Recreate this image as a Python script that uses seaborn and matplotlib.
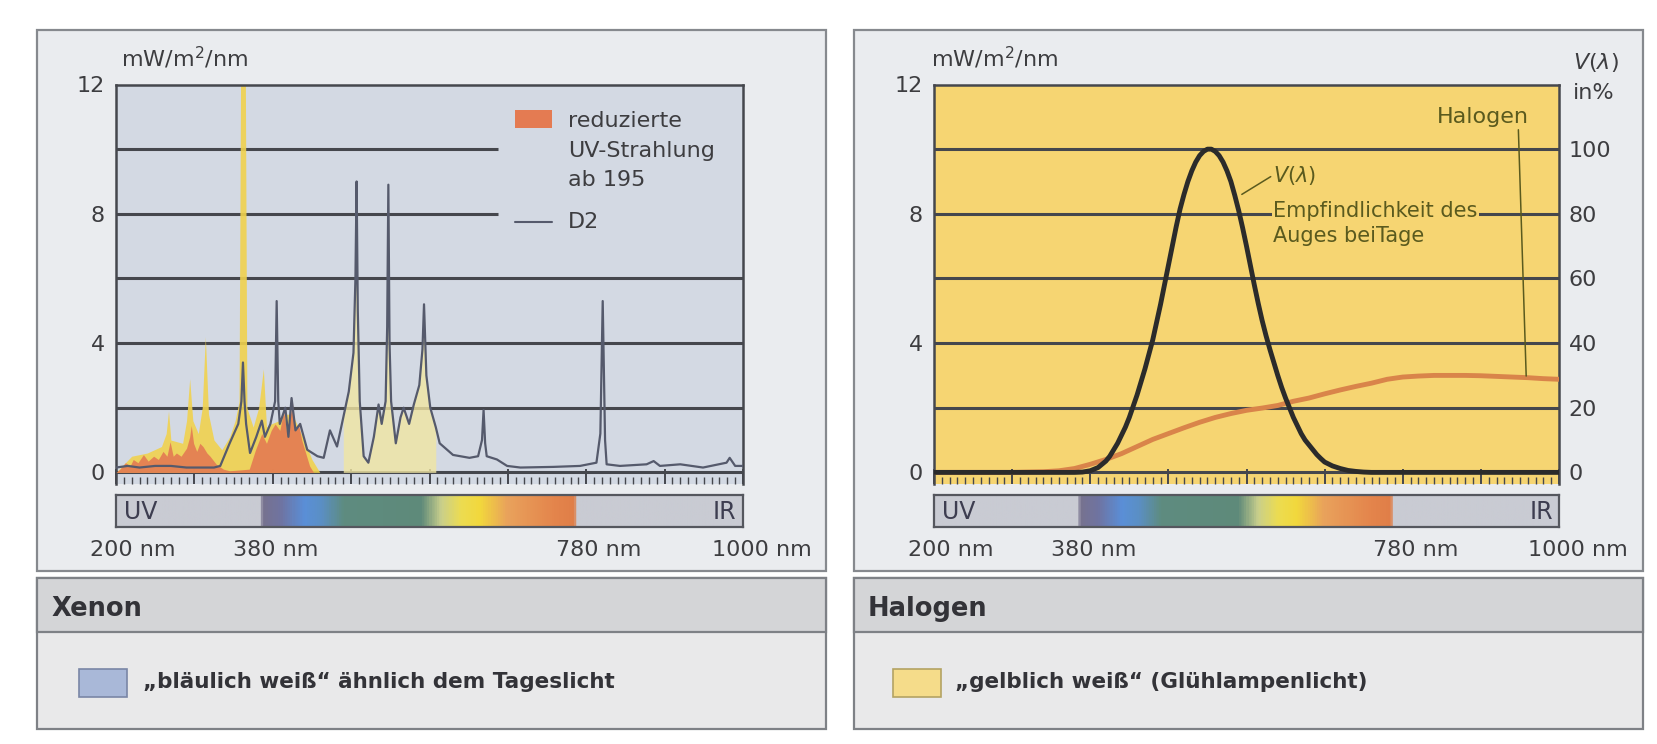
import numpy as np
import seaborn as sns
import matplotlib
import matplotlib.pyplot as plt
from matplotlib.colors import LinearSegmentedColormap
from matplotlib.patches import Rectangle
from matplotlib.lines import Line2D

matplotlib.use('Agg')

# Xenon, D2 curve (nm, mW/m2/nm)
d2_nm = [200, 215, 230, 250, 270, 290, 310, 325, 333, 345, 356, 360, 362, 364, 366, 371, 379,
         386, 390, 397, 403, 405, 407, 409, 416, 420, 424, 429, 435, 444, 457, 465, 473, 482,
         490, 497, 503, 505.5, 507, 508.5, 511, 516, 522, 529, 535, 539, 544, 546, 547.5, 549,
         551, 557, 563, 567, 574, 580, 587, 591, 593, 596, 601, 608, 613, 630, 651, 662, 667,
         669, 671, 673, 686, 699, 716, 758, 792, 813, 818, 821, 824, 826, 843, 877, 886, 894,
         920, 949, 979, 983, 990, 1000]
d2_val = [0.15, 0.2, 0.15, 0.2, 0.2, 0.15, 0.15, 0.15, 0.2, 0.9, 1.5, 2.2, 3.4, 2.2, 1.5, 0.6, 1.1,
          1.6, 1.1, 1.5, 2.2, 5.3, 2.2, 1.5, 2.0, 1.1, 2.3, 1.3, 1.5, 0.7, 0.5, 0.45, 1.3, 0.8,
          1.7, 2.5, 3.7, 6.0, 9.0, 5.0, 2.2, 0.5, 0.3, 1.1, 2.1, 1.5, 2.2, 4.5, 8.9, 4.0,
          2.2, 0.9, 1.7, 2.0, 1.5, 2.1, 2.7, 3.8, 5.2, 3.0, 2.0, 1.4, 0.9, 0.54, 0.45, 0.5, 1.0,
          1.93, 0.9, 0.5, 0.4, 0.2, 0.15, 0.17, 0.2, 0.3, 1.2, 5.3, 1.0, 0.25, 0.2, 0.25, 0.35, 0.2,
          0.25, 0.15, 0.3, 0.45, 0.2, 0.2]

# reduzierte UV-Strahlung (orange area)
uv_nm = [200, 205, 212, 218, 222, 228, 235, 241, 248, 254, 260, 265, 269, 273, 277, 283, 290,
         294, 296, 299, 303, 307, 311, 316, 320, 328, 337, 345, 370, 378, 386, 392, 398, 403,
         409, 414, 418, 422, 425, 428, 433, 437, 442, 447, 452]
uv_val = [0, 0.1, 0.3, 0.2, 0.4, 0.3, 0.55, 0.35, 0.5, 0.4, 0.65, 0.5, 0.95, 0.5, 0.6, 0.5, 0.75,
          1.1, 1.45, 0.9, 0.65, 0.9, 0.8, 0.6, 0.5, 0.25, 0.1, 0.05, 0.1, 0.7, 1.2, 0.9, 1.3, 1.5,
          1.3, 1.9, 1.2, 1.7, 2.2, 1.4, 1.5, 1.0, 0.6, 0.2, 0]

# yellow parts of the xenon spectrum
yel_nm = [200, 220, 240, 258, 264, 267, 270, 285, 290, 294, 298, 305, 310, 314, 318, 325, 335,
          345, 352, 357, 359, 365, 367, 375, 382, 388, 392, 398, 408, 415, 425, 440, 450, 460]
yel_val = [0, 0.5, 0.6, 0.8, 1.2, 1.9, 1.0, 0.9, 1.6, 2.9, 1.6, 1.2, 2.0, 4.2, 1.8, 1.0, 0.7,
           1.1, 1.6, 2.2, 12.5, 12.5, 2.0, 1.4, 2.0, 3.2, 1.4, 1.5, 1.6, 1.8, 1.8, 1.0, 0.4, 0]

# Halogen (nm, mW/m2/nm)
hal_nm = [200, 300, 340, 360, 380, 400, 420, 440, 460, 480, 500, 520, 540, 560, 580, 600, 620,
          640, 660, 680, 700, 720, 740, 760, 780, 800, 820, 840, 860, 880, 900, 920, 940, 960,
          980, 1000]
hal_val = [0.0, 0.0, 0.02, 0.05, 0.12, 0.25, 0.4, 0.58, 0.8, 1.02, 1.2, 1.38, 1.55, 1.7, 1.82,
           1.92, 1.99, 2.07, 2.2, 2.3, 2.43, 2.55, 2.66, 2.76, 2.88, 2.95, 2.98, 3.0, 3.0, 3.0,
           2.99, 2.97, 2.95, 2.93, 2.9, 2.88]

# V(lambda) in %
v_nm = [200, 300, 380, 390, 400, 410, 420, 425, 430, 435, 440, 445, 450, 455, 460, 465, 470,
        475, 480, 485, 490, 495, 500, 505, 510, 515, 520, 525, 530, 535, 540, 545, 550, 555,
        560, 565, 570, 575, 580, 585, 590, 595, 600, 605, 610, 615, 620, 625, 630, 635, 640,
        645, 650, 655, 660, 665, 670, 675, 680, 685, 690, 695, 700, 710, 720, 730, 740, 750,
        760, 780, 1000]
v_pct = [0, 0, 0, 0.1, 0.5, 1.5, 3.5, 5, 7, 9, 11.5, 14, 17, 20.5, 24, 28, 32,
         36.5, 41, 46.5, 52, 58, 64, 70, 76, 81.5, 86, 90, 93.3, 96, 98, 99.3, 100, 100,
         99.3, 98, 96, 93.3, 90, 85.7, 81, 75.7, 70, 64, 58, 52.3, 47, 42.3, 38, 34, 30,
         26.3, 23, 20, 17, 14.5, 12, 10, 8.5, 7, 5.5, 4.3, 3.2, 2, 1.2, 0.6, 0.3, 0.1,
         0, 0, 0]

y_ticks = [0, 4, 8, 12]
v_ticks = [0, 20, 40, 60, 80, 100]
grid_levels = [2, 4, 6, 8, 10]
band_labels = ['200 nm', '380 nm', '780 nm', '1000 nm']
band_label_pos = [222, 404, 816, 1024]
band_stops = [200, 383, 386, 410, 440, 462, 490, 590, 615, 640, 665, 700, 760, 786, 789, 1000]
band_colors = ['#c9cbd3', '#c9cbd3', '#77728e', '#6f74a2', '#5a8fd8', '#5b8fc4', '#5e8c80',
               '#5f8a7a', '#c9cf8c', '#ecdc52', '#f2d83c', '#e9a25c', '#e4854c', '#e07e48',
               '#c9cbd3', '#c9cbd3']

W, H = 1657, 744


def fx(px):
    return px / W


def fy(py):
    return 1 - py / H


sns.set_theme(style='white')
plt.rcParams['font.family'] = ['DejaVu Sans']
txt = '#3d3d40'
grid_c = '#45474d'
fs = 16

fig = plt.figure(figsize=(W / 100, H / 100), dpi=100)
fig.patch.set_facecolor('white')

# panel boxes (behind the axes)
for x0 in [37, 854]:
    fig.patches.append(Rectangle((fx(x0), fy(571)), 789 / W, 541 / H, transform=fig.transFigure,
                                 facecolor='#eaecef', edgecolor='#86898e', lw=1.6, zorder=-5))
    fig.patches.append(Rectangle((fx(x0), fy(729)), 789 / W, 151 / H, transform=fig.transFigure,
                                 facecolor='#e9e9ea', edgecolor='#7e8186', lw=1.6, zorder=-5))
    fig.patches.append(Rectangle((fx(x0), fy(632)), 789 / W, 54 / H, transform=fig.transFigure,
                                 facecolor='#d4d5d7', edgecolor='#7e8186', lw=1.6, zorder=-4))

cmap = LinearSegmentedColormap.from_list(
    'band', list(zip([(s - 200) / 800 for s in band_stops], band_colors)))


def setup_axes(ax, bg, x_unit):
    ax.set_facecolor(bg)
    ax.set_xlim(200, 1000)
    ax.set_ylim(-0.35, 12)
    ax.set_yticks(y_ticks)
    ax.set_yticklabels([str(t) for t in y_ticks], fontsize=fs, color=txt)
    ax.tick_params(axis='y', left=False, length=0, pad=8)
    ax.set_xticks(np.arange(200, 1001, 100))
    ax.set_xticks(np.arange(200, 1001, 10), minor=True)
    ax.tick_params(axis='x', which='major', bottom=True, direction='in', length=11, width=1.4,
                   color=grid_c, labelbottom=False)
    ax.tick_params(axis='x', which='minor', bottom=True, direction='in', length=5, width=1.0,
                   color=grid_c, labelbottom=False)
    ax.set_xlabel('')
    ax.set_ylabel('')
    for s in ['left', 'right', 'top']:
        ax.spines[s].set_color(grid_c)
        ax.spines[s].set_linewidth(1.8)
    ax.spines['bottom'].set_visible(False)
    ax.axhline(0, color=grid_c, lw=2.2, zorder=1)
    fig.text(fx(x_unit), fy(58), 'mW/m$^2$/nm', fontsize=fs, color=txt, ha='left', va='center')


def band_axes(rect):
    bx = fig.add_axes(rect)
    bx.imshow(np.linspace(200, 1000, 801)[None, :], cmap=cmap, aspect='auto',
              extent=[200, 1000, 0, 1], vmin=200, vmax=1000)
    bx.set_xlim(200, 1000)
    bx.set_ylim(0, 1)
    bx.set_xticks([])
    bx.set_yticks([])
    for s in bx.spines.values():
        s.set_color('#55575e')
        s.set_linewidth(1.6)
    bx.text(0.012, 0.45, 'UV', transform=bx.transAxes, fontsize=17, color='#3d3d50',
            ha='left', va='center')
    bx.text(0.99, 0.45, 'IR', transform=bx.transAxes, fontsize=17, color='#3d3d50',
            ha='right', va='center')
    for lab, pos in zip(band_labels, band_label_pos):
        bx.text(pos, -0.72, lab, fontsize=fs, color=txt, ha='center', va='center',
                clip_on=False)
    return bx


# ---------------- Xenon ----------------
ax1 = fig.add_axes([fx(116), fy(483.7), 627 / W, 399.2 / H])
setup_axes(ax1, '#d3d9e3', 121)
for g in grid_levels:
    xmax = 687 if g >= 8 else 1000
    ax1.hlines(g, 200, xmax, color=grid_c, lw=2.2, zorder=1)

d2_arr = np.array(d2_val)
d2_x = np.array(d2_nm)
vis = (d2_x >= 490) & (d2_x <= 610)
ax1.fill_between(d2_x, 0, d2_arr, where=vis, color='#f1e6a2', alpha=0.8, lw=0, zorder=2)
ax1.fill_between(yel_nm, 0, yel_val, color='#f0d24e', alpha=0.9, lw=0, zorder=2)
ax1.fill_between(uv_nm, 0, uv_val, color='#e47b52', alpha=0.9, lw=0, zorder=3)
sns.lineplot(x=d2_nm, y=d2_val, ax=ax1, color='#555a6c', lw=1.6, estimator=None, sort=False,
             zorder=4)
ax1.set_xlim(200, 1000)
ax1.set_ylim(-0.35, 12)

# legend
fig.patches.append(Rectangle((fx(515), fy(128)), 37 / W, 18 / H, transform=fig.transFigure,
                             facecolor='#e47b52', edgecolor='none', zorder=5))
fig.lines.append(Line2D([fx(515), fx(552)], [fy(222), fy(222)], transform=fig.transFigure,
                        color='#555a6c', lw=1.5))
for line, yy in zip(['reduzierte', 'UV-Strahlung', 'ab 195', 'D2'], [121, 151, 180, 222]):
    fig.text(fx(568), fy(yy), line, fontsize=fs, color=txt, ha='left', va='center')

band_axes([fx(116), fy(527), 627 / W, 32.5 / H])

# ---------------- Halogen ----------------
olive = '#5a5a1e'
ax2 = fig.add_axes([fx(934), fy(483.7), 625 / W, 399.2 / H])
setup_axes(ax2, '#f6d572', 931)
for g in grid_levels:
    ax2.hlines(g, 200, 1000, color=grid_c, lw=2.2, zorder=1)

sns.lineplot(x=hal_nm, y=hal_val, ax=ax2, color='#d9844a', lw=3.5, estimator=None, sort=False,
             zorder=3)
ax2.set_xlim(200, 1000)
ax2.set_ylim(-0.35, 12)

ax3 = ax2.twinx()
sns.lineplot(x=v_nm, y=v_pct, ax=ax3, color='#2b2b2b', lw=3.5, estimator=None, sort=False,
             zorder=4)
ax3.set_ylim(-3.5, 120)
ax3.set_xlim(200, 1000)
ax3.set_yticks(v_ticks)
ax3.set_yticklabels([str(t) for t in v_ticks], fontsize=fs, color=txt)
ax3.tick_params(axis='y', right=False, length=0, pad=7)
ax3.set_ylabel('')
for s in ax3.spines.values():
    s.set_visible(False)
fig.text(fx(1596), fy(63), '$V(\\lambda)$', fontsize=fs, color=txt, ha='center', va='center')
fig.text(fx(1594), fy(93), 'in%', fontsize=fs, color=txt, ha='center', va='center')

# annotations
ax3.plot([594, 631], [86, 91.5], color=olive, lw=1.1, zorder=5)
ax3.text(634, 92, '$V(\\lambda)$', fontsize=15, color=olive, ha='left', va='center')
ax3.text(634, 81, 'Empfindlichkeit des', fontsize=15, color=olive, ha='left', va='center',
         bbox=dict(facecolor='#f6d572', edgecolor='none', pad=1.0), zorder=5)
ax3.text(634, 73, 'Auges beiTage', fontsize=15, color=olive, ha='left', va='center', zorder=5)
ax3.text(903, 110, 'Halogen', fontsize=fs, color=olive, ha='center', va='center')
ax3.plot([948, 958], [106, 29.8], color=olive, lw=1.1, zorder=5)

band_axes([fx(934), fy(527), 625 / W, 32.5 / H])

# ---------------- bottom boxes ----------------
fig.text(fx(52), fy(609), 'Xenon', fontsize=18.5, fontweight='bold', color='#333338',
         ha='left', va='center')
fig.text(fx(868), fy(609), 'Halogen', fontsize=18.5, fontweight='bold', color='#333338',
         ha='left', va='center')
fig.patches.append(Rectangle((fx(79), fy(697)), 48 / W, 28 / H, transform=fig.transFigure,
                             facecolor='#a9b8d8', edgecolor='#7a86a6', lw=1.2))
fig.patches.append(Rectangle((fx(893), fy(697)), 48 / W, 28 / H, transform=fig.transFigure,
                             facecolor='#f5dc8a', edgecolor='#b3a363', lw=1.2))
fig.text(fx(143), fy(682), '\u201ebläulich weiß\u201c ähnlich dem Tageslicht', fontsize=15.5,
         fontweight='bold', color='#333338', ha='left', va='center')
fig.text(fx(955), fy(682), '\u201egelblich weiß\u201c (Glühlampenlicht)', fontsize=15.5,
         fontweight='bold', color='#333338', ha='left', va='center')

plt.savefig('out.png', dpi=100)
plt.close()
